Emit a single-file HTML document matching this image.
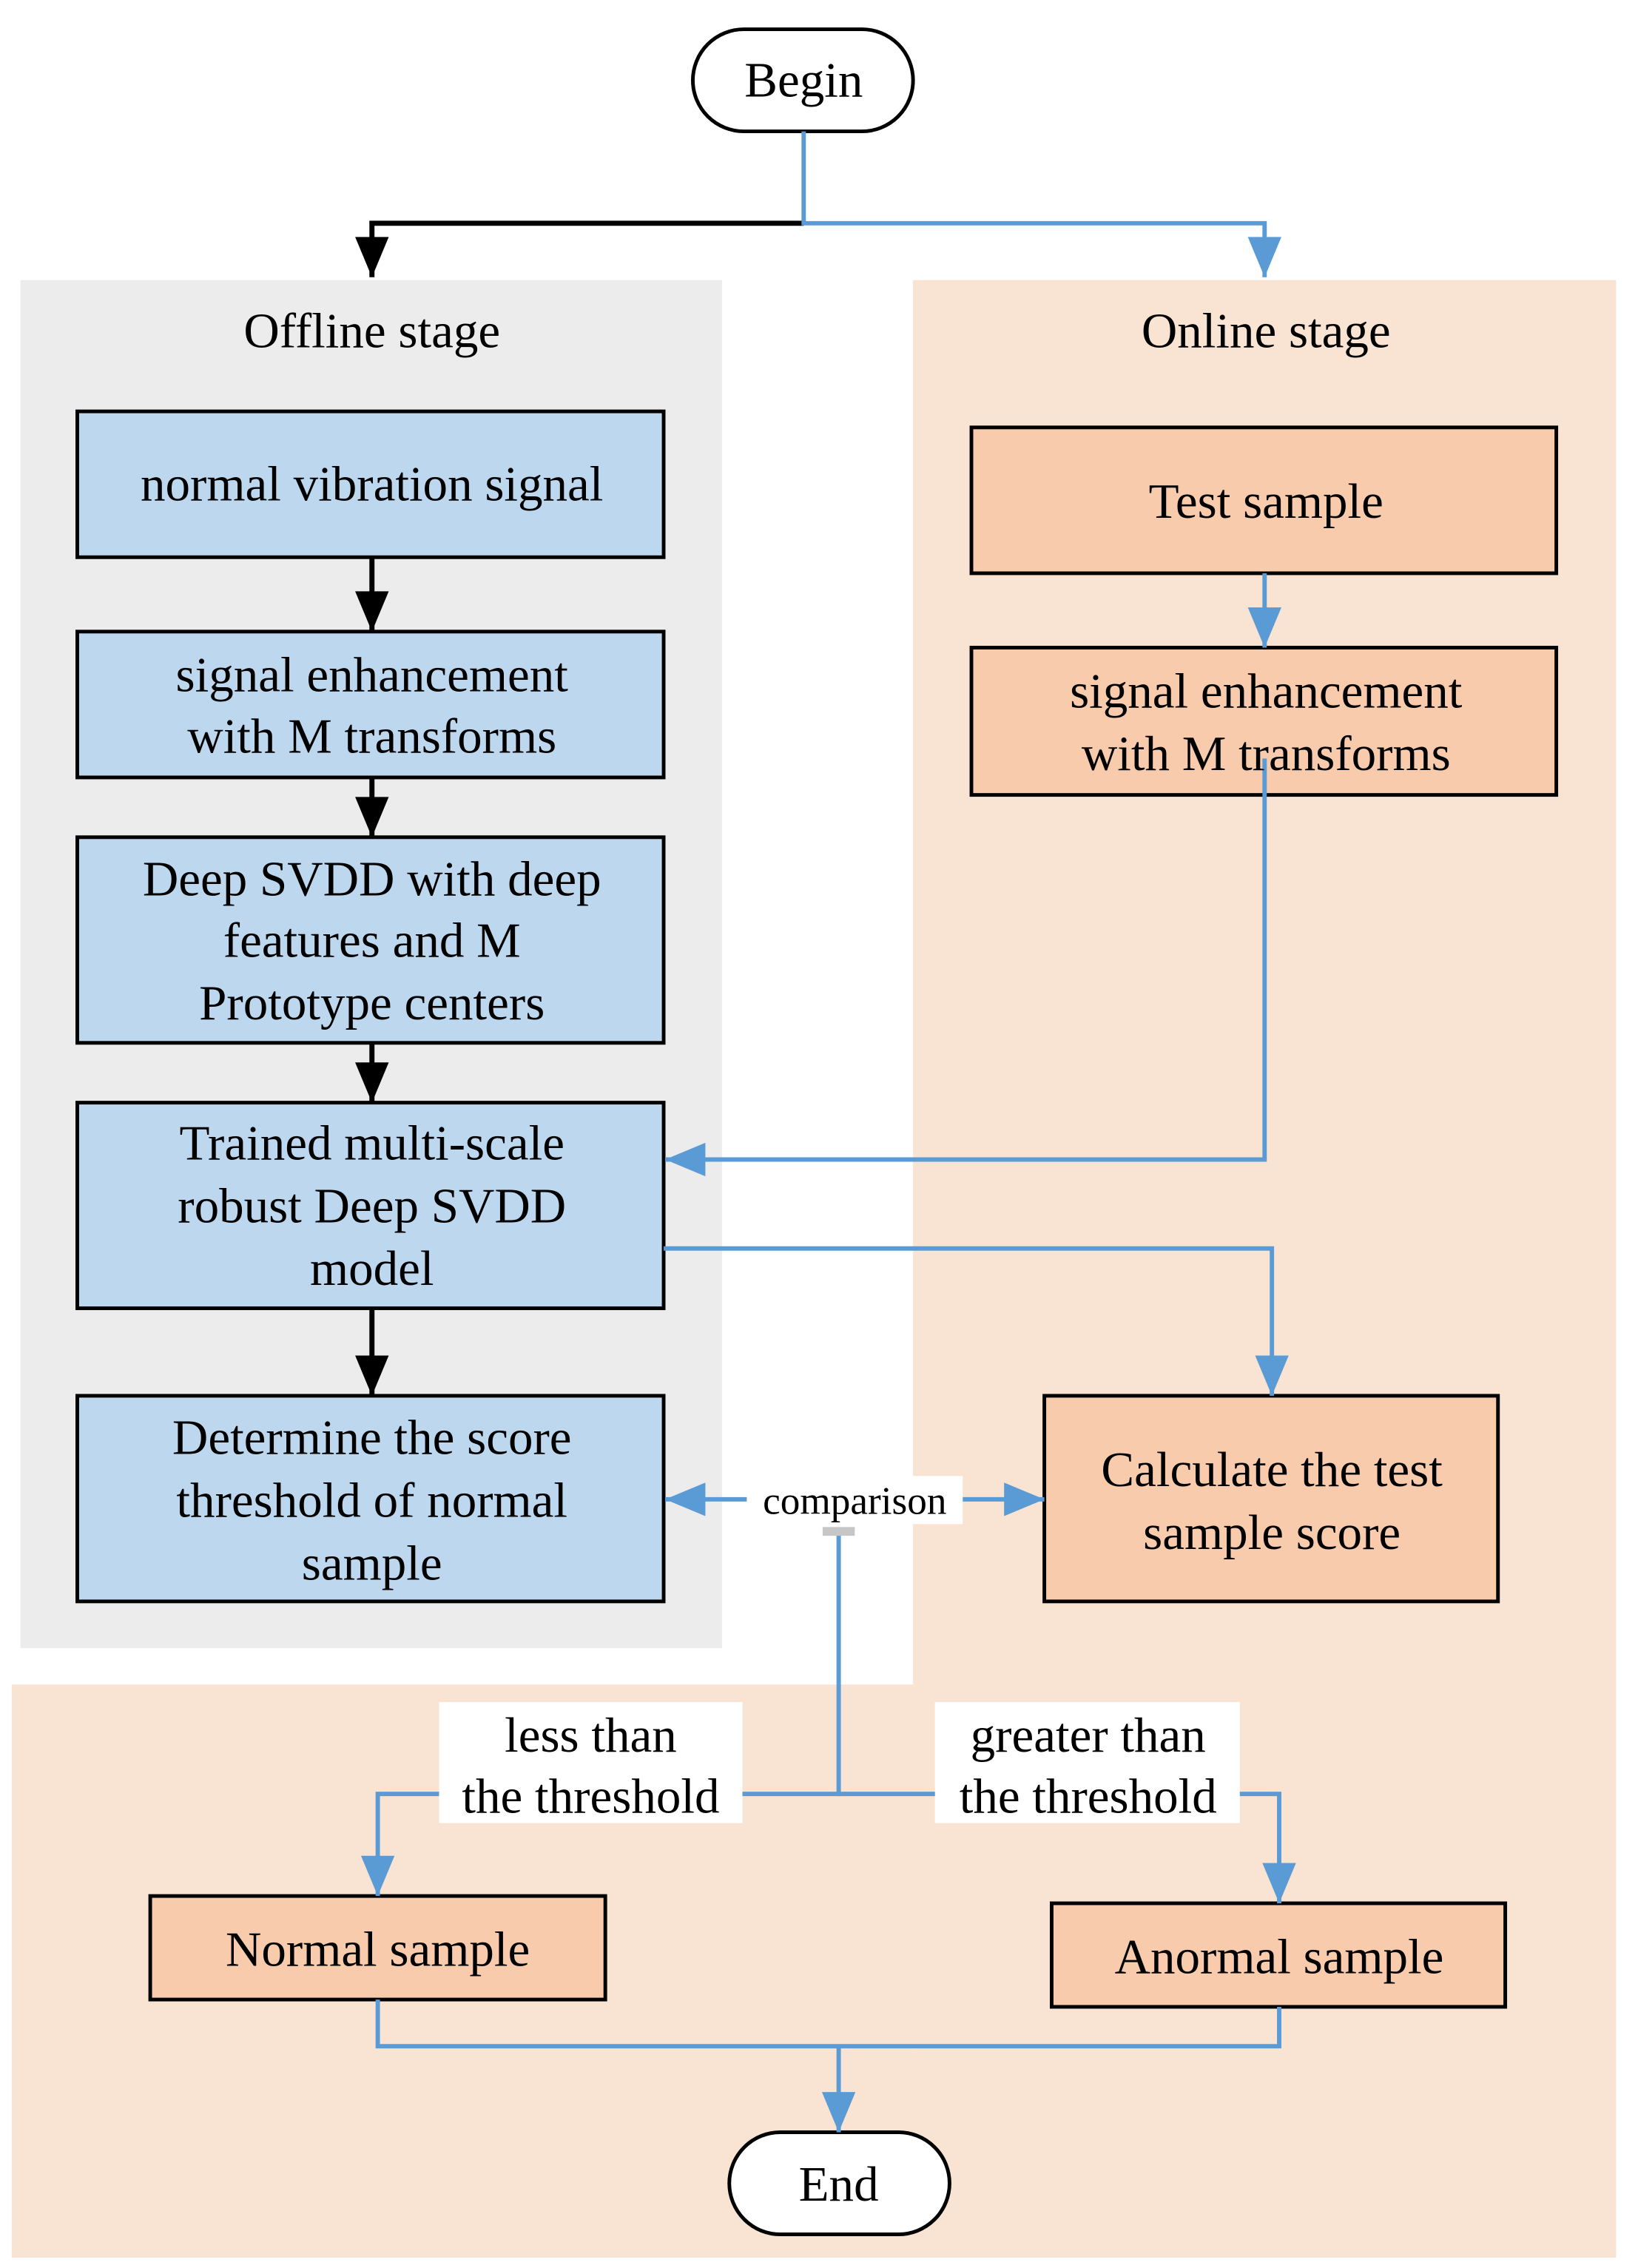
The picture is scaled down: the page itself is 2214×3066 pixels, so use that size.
<!DOCTYPE html>
<html><head><style>html,body{margin:0;padding:0;background:#fff}svg{display:block}text{font-family:"Liberation Serif",serif;fill:#000}</style></head>
<body>
<svg width="2214" height="3066" viewBox="0 0 1123 1555" xmlns="http://www.w3.org/2000/svg">
<defs>
<marker id="ab" viewBox="0 0 12 10" refX="12" refY="5" markerWidth="28" markerHeight="23" orient="auto" markerUnits="userSpaceOnUse"><path d="M0,0L12,5L0,10z" fill="#000"/></marker>
<marker id="au" viewBox="0 0 12 10" refX="12" refY="5" markerWidth="28" markerHeight="23" orient="auto" markerUnits="userSpaceOnUse"><path d="M0,0L12,5L0,10z" fill="#5b9bd5"/></marker>
</defs>
<rect x="14" y="192" width="481" height="938" fill="#ececec"/>
<rect x="626" y="192" width="482" height="1356" fill="#f9e4d4"/>
<rect x="8" y="1155" width="618" height="393" fill="#f9e4d4"/>
<g font-size="34" text-anchor="middle">
<text x="255" y="238">Offline stage</text>
<text x="868" y="238">Online stage</text>
</g>
<g fill="#bdd7ee" stroke="#000" stroke-width="2.5">
<rect x="53" y="282" width="402" height="100"/>
<rect x="53" y="433" width="402" height="100"/>
<rect x="53" y="574" width="402" height="141"/>
<rect x="53" y="756" width="402" height="141"/>
<rect x="53" y="957" width="402" height="141"/>
</g>
<g fill="#f8cbad" stroke="#000" stroke-width="2.5">
<rect x="666" y="293" width="401" height="100"/>
<rect x="666" y="444" width="401" height="101"/>
<rect x="716" y="957" width="311" height="141"/>
<rect x="103" y="1300" width="312" height="71"/>
<rect x="721" y="1305" width="311" height="71"/>
</g>
<g fill="#fff" stroke="#000" stroke-width="2.5">
<rect x="475" y="20" width="151" height="70" rx="35"/>
<rect x="500" y="1462" width="151" height="70" rx="35"/>
</g>
<g fill="none" stroke="#000" stroke-width="3.5">
<path d="M551 153H255V190" marker-end="url(#ab)"/>
<path d="M255 382V433" marker-end="url(#ab)"/>
<path d="M255 533V574" marker-end="url(#ab)"/>
<path d="M255 715V756" marker-end="url(#ab)"/>
<path d="M255 897V957" marker-end="url(#ab)"/>
</g>
<g fill="none" stroke="#5b9bd5" stroke-width="3">
<path d="M551 90V153H867V190" marker-end="url(#au)"/>
<path d="M867 393V444" marker-end="url(#au)"/>
<path d="M867 520V795H456" marker-end="url(#au)"/>
<path d="M455 856H872V957" marker-end="url(#au)"/>
<path d="M512 1028H456" marker-end="url(#au)"/>
<path d="M660 1028H716" marker-end="url(#au)"/>
<path d="M575 1050V1230H259V1300" marker-end="url(#au)"/>
<path d="M575 1230H877V1305" marker-end="url(#au)"/>
<path d="M259 1371V1403H877V1376M575 1403V1462" marker-end="url(#au)"/>
</g>
<rect x="564" y="1047" width="22" height="6" fill="#c6c6c6"/>
<g fill="#fff">
<rect x="512" y="1012" width="148" height="33"/>
<rect x="301" y="1167" width="208" height="83"/>
<rect x="641" y="1167" width="209" height="83"/>
</g>
<g font-size="34" text-anchor="middle">
<text x="551" y="66">Begin</text>
<text x="575" y="1509">End</text>
<text x="255" y="343">normal vibration signal</text>
<text x="255" y="474">signal enhancement</text>
<text x="255" y="516">with M transforms</text>
<text x="255" y="614">Deep SVDD with deep</text>
<text x="255" y="656">features and M</text>
<text x="255" y="699">Prototype centers</text>
<text x="255" y="795">Trained multi-scale</text>
<text x="255" y="838">robust Deep SVDD</text>
<text x="255" y="881">model</text>
<text x="255" y="997">Determine the score</text>
<text x="255" y="1040">threshold of normal</text>
<text x="255" y="1083">sample</text>
<text x="868" y="355">Test sample</text>
<text x="868" y="485">signal enhancement</text>
<text x="868" y="528">with M transforms</text>
<text x="872" y="1019">Calculate the test</text>
<text x="872" y="1062">sample score</text>
<text x="259" y="1348">Normal sample</text>
<text x="877" y="1353">Anormal sample</text>
<text x="405" y="1201">less than</text>
<text x="405" y="1243">the threshold</text>
<text x="746" y="1201">greater than</text>
<text x="746" y="1243">the threshold</text>
<text x="586" y="1038" font-size="27">comparison</text>
</g>
</svg>
</body></html>
